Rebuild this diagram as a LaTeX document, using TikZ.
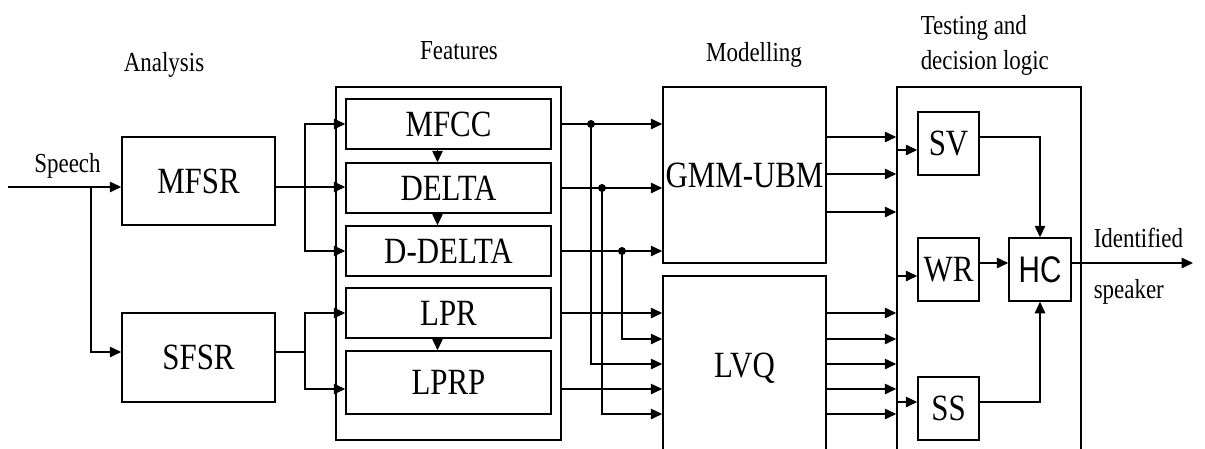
\documentclass[tikz,border=0pt]{standalone}
\usepackage{fontspec}
\setmainfont{Liberation Serif}[FakeStretch=0.835]
\newfontfamily\hcfont{Liberation Sans}[FakeStretch=0.8]
\usetikzlibrary{arrows.meta}
\newcommand\boxtxt{\fontsize{37}{42}\selectfont}
\newcommand\lbltxt{\fontsize{27.5}{33}\selectfont}
\tikzset{
  arr/.style={-{Triangle[length=11.5pt,width=10.5pt]}},
  blk/.style={draw, rectangle, inner sep=0pt, font=\boxtxt},
  lbl/.style={inner sep=0pt, font=\lbltxt},
  dot/.style={circle, fill, inner sep=0pt, minimum size=8pt}
}
\begin{document}
\begin{tikzpicture}[x=1pt,y=-1pt,line width=1.5pt]
\useasboundingbox (0,0) rectangle (1205,448);
\clip (0,0) rectangle (1205,448);
% headers
\node[lbl, anchor=base] (hAna) at (164,71) {Analysis};
\node[lbl, anchor=base] (hFeat) at (459,59) {Features};
\node[lbl, anchor=base] (hMod) at (754,61) {Modelling};
\node[lbl, anchor=base west] (hTest1) at (920,34) {Testing and};
\node[lbl, anchor=base west] (hTest2) at (920,69) {decision logic};
\node[lbl, anchor=base] (speech) at (67.5,172) {Speech};
\node[lbl, anchor=base west] (ident) at (1093,247) {Identified};
\node[lbl, anchor=base west] (spk) at (1093,298) {speaker};
% analysis blocks
\node[blk, minimum width=153pt, minimum height=88pt] (mfsr) at (198.5,181) {MFSR};
\node[blk, minimum width=153pt, minimum height=89pt] (sfsr) at (198.5,357.5) {SFSR};
% features
\node[draw, rectangle, inner sep=0pt, minimum width=225pt, minimum height=353pt] (feat) at (448.5,263.5) {};
\node[blk, minimum width=205pt, minimum height=50pt] (mfcc) at (448.5,124) {MFCC};
\node[blk, minimum width=205pt, minimum height=50pt] (delta) at (448.5,188) {DELTA};
\node[blk, minimum width=205pt, minimum height=50pt] (ddelta) at (448.5,251) {D-DELTA};
\node[blk, minimum width=205pt, minimum height=50pt] (lpr) at (448.5,313) {LPR};
\node[blk, minimum width=205pt, minimum height=63pt] (lprp) at (448.5,382.5) {LPRP};
% modelling
\node[blk, minimum width=163pt, minimum height=176pt] (gmm) at (744.5,175) {GMM-UBM};
\node[blk, minimum width=163pt, minimum height=184pt] (lvq) at (744.5,368) {LVQ};
% testing
\node[draw, rectangle, inner sep=0pt, minimum width=184pt, minimum height=373pt] (test) at (989,273.5) {};
\node[blk, minimum width=61pt, minimum height=63pt] (sv) at (948.5,143.5) {SV};
\node[blk, minimum width=61pt, minimum height=63pt] (wr) at (948.5,269.5) {WR};
\node[blk, minimum width=61pt, minimum height=63pt] (ss) at (948.5,408.5) {SS};
\node[blk, minimum width=62pt, minimum height=63pt, font=\hcfont\boxtxt] (hc) at (1040,269.5) {HC};
% speech input
\coordinate (sin) at (8,187);
\coordinate (js) at (91,187);
\draw[arr] (sin) -- (mfsr.west |- sin);
\draw[arr] (js) |- ([yshift=5.5pt]sfsr.west);
% MFSR to features
\coordinate (jm) at (305,187);
\draw (mfsr.east |- jm) -- (jm);
\draw[arr] (jm) -- (delta.west |- jm);
\draw[arr] (jm) |- (mfcc.west);
\draw[arr] (jm) |- (ddelta.west);
% SFSR to features
\coordinate (jl) at (305,352);
\draw ([yshift=5.5pt]sfsr.east) -- (jl);
\draw[arr] (jl) |- (lpr.west);
\coordinate (lpin) at (305,389);
\draw[arr] (jl) -- (lpin) -- (lprp.west |- lpin);
% inner small arrows
\draw[arr] ([xshift=-11pt]mfcc.south) -- ([xshift=-11pt]delta.north);
\draw[arr] ([xshift=-11pt]delta.south) -- ([xshift=-11pt]ddelta.north);
\draw[arr] ([xshift=-11pt]lpr.south) -- ([xshift=-11pt]lprp.north);
% features to GMM
\draw[arr] (feat.east |- mfcc.east) -- (gmm.west |- mfcc.east);
\draw[arr] (feat.east |- delta.east) -- (gmm.west |- delta.east);
\draw[arr] (feat.east |- ddelta.east) -- (gmm.west |- ddelta.east);
% taps
\node[dot] (d1) at (591,124) {};
\node[dot] (d2) at (602,188) {};
\node[dot] (d3) at (622,251) {};
\draw[arr] (d1.center) |- (lvq.west |- 0,364);
\draw[arr] (d2.center) |- (lvq.west |- 0,414);
\draw[arr] (d3.center) |- (lvq.west |- 0,339);
% features to LVQ
\draw[arr] (feat.east |- lpr.east) -- (lvq.west |- lpr.east);
\draw[arr] (feat.east |- lpin) -- (lvq.west |- lpin);
% modelling to testing
\foreach \yy in {137,174,212,313,339,364,389,414}
  \draw[arr] (gmm.east |- 0,\yy) -- (test.west |- 0,\yy);
% into decision blocks
\draw[arr] (test.west |- 0,150) -- ([yshift=-6.5pt]sv.west);
\draw[arr] (test.west |- 0,276) -- ([yshift=-6.5pt]wr.west);
\draw[arr] (test.west |- 0,402) -- ([yshift=6.5pt]ss.west);
% to HC
\draw[arr] ([yshift=6.5pt]sv.east) -| (hc.north);
\draw[arr] ([yshift=6.5pt]wr.east) -- ([yshift=6.5pt]hc.west);
\draw[arr] ([yshift=6.5pt]ss.east) -| (hc.south);
\coordinate (out) at (1193,263);
\draw[arr] ([yshift=6.5pt]hc.east) -- (out);
\end{tikzpicture}
\end{document}
